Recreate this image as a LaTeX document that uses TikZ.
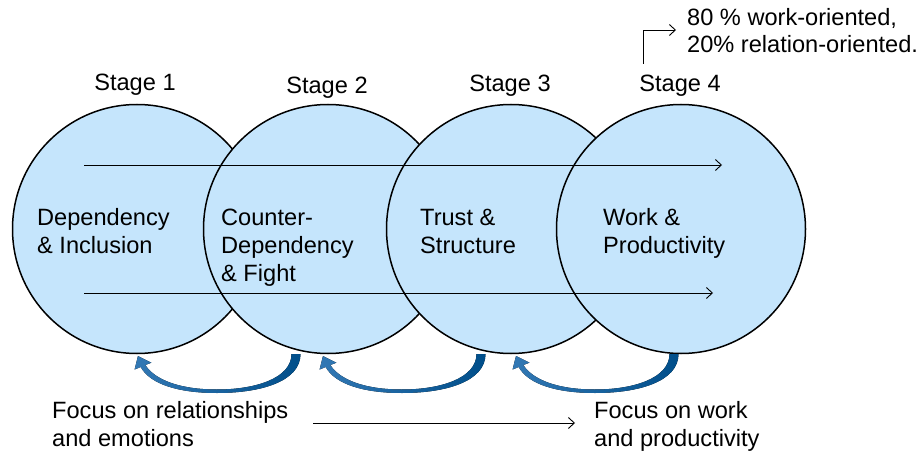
\documentclass[tikz,border=0pt]{standalone}
\usepackage{fontspec}
\setmainfont{Liberation Sans}
\usetikzlibrary{arrows.meta}
\definecolor{circfill}{RGB}{197,229,252}
\definecolor{arrowdark}{RGB}{0,78,138}
\definecolor{arrowlight}{RGB}{50,120,180}
\tikzset{
  stagecircle/.style={circle, draw=black, line width=1.5pt, fill=circfill, minimum size=249pt, inner sep=0pt},
  lbl/.style={inner sep=0pt, align=left, anchor=base west},
  stagelbl/.style={inner sep=0pt, anchor=base},
  thinarrow/.style={line width=0.9pt, -{Straight Barb[length=6pt,width=11pt]}},
  cycfill/.style={left color=arrowlight, right color=arrowdark, draw=none}
}
\begin{document}
\begin{tikzpicture}[x=1pt,y=-1pt,font=\fontsize{23.6}{28}\selectfont]
\useasboundingbox (0,0) rectangle (922,452);
% circles
\node[stagecircle] (c1) at (137,229) {};
\node[stagecircle] (c2) at (328,229) {};
\node[stagecircle] (c3) at (511,229) {};
\node[stagecircle] (c4) at (681,229) {};
% horizontal arrows
\coordinate (t1) at (84,165); \coordinate (t2) at (722,165);
\coordinate (b1) at (84,293); \coordinate (b2) at (713,293);
\draw[thinarrow] (t1) -- (t2);
\draw[thinarrow] (b1) -- (b2);
% stage labels
\node[stagelbl] (s1) at (135,91) {Stage 1};
\node[stagelbl] (s2) at (327,94) {Stage 2};
\node[stagelbl] (s3) at (510,92) {Stage 3};
\node[stagelbl] (s4) at (680,92) {Stage 4};
% circle texts (base = last line)
\node[lbl] (d1) at (37,253) {Dependency\\\& Inclusion};
\node[lbl] (d2) at (221,281) {Counter-\\Dependency\\\& Fight};
\node[lbl] (d3) at (420,253) {Trust \&\\Structure};
\node[lbl] (d4) at (603,253) {Work \&\\Productivity};
% top right
\node[lbl] (ratio) at (687,53) {80 \% work-oriented,\\20\% relation-oriented.};
\coordinate (e1) at (643,64);
\coordinate (e2) at (676,30);
\draw[thinarrow] (e1) |- (e2);
% bottom texts
\node[lbl] (f1) at (52,446) {Focus on relationships\\and emotions};
\node[lbl] (f2) at (594,446) {Focus on work\\and productivity};
\coordinate (g1) at (313,423); \coordinate (g2) at (575,423);
\draw[thinarrow] (g1) -- (g2);
% curved arrows
\foreach \s in {0,185,378}{
\begin{scope}[xshift=\s pt]
\fill[cycfill] (300.5,354) .. controls (300.5,381) and (262,393) .. (217,393)
  .. controls (178,393) and (150,384) .. (140.7,367) -- (134.6,369.5) -- (138,356)
  -- (151.4,362.7) -- (145.3,365) .. controls (155,380) and (180,389.5) .. (217,389.5)
  .. controls (256,389.5) and (291.5,378) .. (291.5,354) -- cycle;
\end{scope}}
\end{tikzpicture}
\end{document}
